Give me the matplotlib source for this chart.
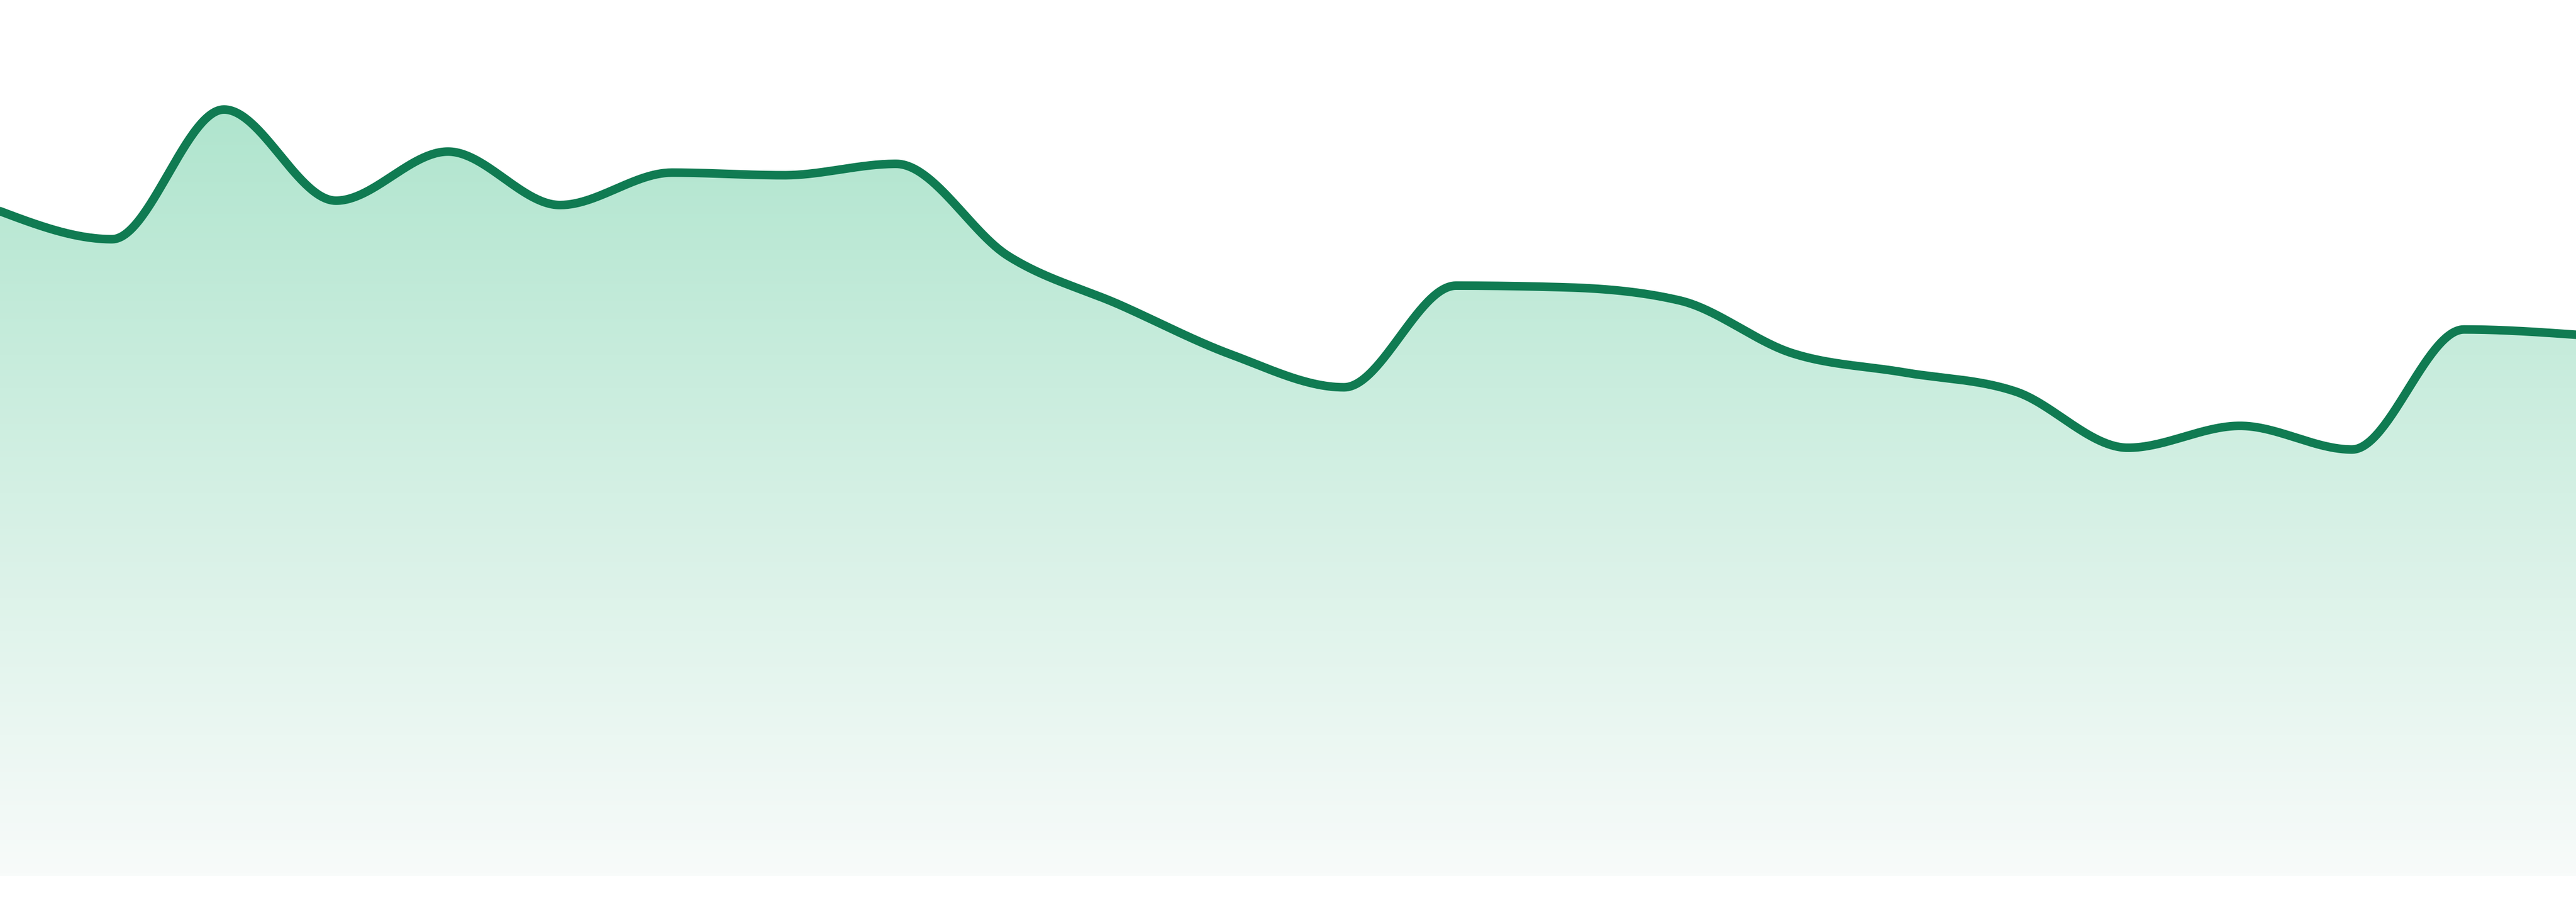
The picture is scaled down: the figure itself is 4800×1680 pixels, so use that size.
#!/usr/bin/env python3
# area chart with a smooth (monotone) line and a vertical gradient fill

import numpy as np
import matplotlib
matplotlib.use('Agg')
import matplotlib.pyplot as plt
from matplotlib.colors import LinearSegmentedColormap

# data (0..100 scale, index = period)
periods = np.arange(24)
values = [75.9, 72.7, 87.5, 77.1, 82.7, 76.6, 80.3, 80.0, 81.3, 70.8, 65.2, 59.5,
          55.8, 67.4, 67.2, 65.7, 59.7, 57.5, 55.3, 48.9, 51.4, 48.7, 62.4, 61.8]

line_color = '#107b52'
fill_top = '#b0e5ce'
fill_bottom = '#f8fbfa'


def monotone_x(x, y, n=60):
    """Monotone cubic curve (same rule as d3.curveMonotoneX)."""
    x = np.asarray(x, float)
    y = np.asarray(y, float)
    h = np.diff(x)
    s = np.diff(y) / h
    t = np.zeros(len(x))
    for i in range(1, len(x) - 1):
        h0, h1 = h[i - 1], h[i]
        s0, s1 = s[i - 1], s[i]
        p = (s0 * h1 + s1 * h0) / (h0 + h1)
        t[i] = (np.sign(s0) + np.sign(s1)) * min(abs(s0), abs(s1), 0.5 * abs(p))
    t[0] = (3 * s[0] - t[1]) / 2
    t[-1] = (3 * s[-1] - t[-2]) / 2

    xs, ys = [], []
    u = np.linspace(0, 1, n)
    for i in range(len(x) - 1):
        dx = h[i] / 3
        p0 = (x[i], y[i])
        p1 = (x[i] + dx, y[i] + dx * t[i])
        p2 = (x[i + 1] - dx, y[i + 1] - dx * t[i + 1])
        p3 = (x[i + 1], y[i + 1])
        a = (1 - u) ** 3
        b = 3 * (1 - u) ** 2 * u
        c = 3 * (1 - u) * u ** 2
        d = u ** 3
        xs.append(a * p0[0] + b * p1[0] + c * p2[0] + d * p3[0])
        ys.append(a * p0[1] + b * p1[1] + c * p2[1] + d * p3[1])
    return np.concatenate(xs), np.concatenate(ys)


W, H = 4800, 1680
fig = plt.figure(figsize=(W / 100, H / 100), dpi=100)
ax = fig.add_axes([0, 48 / H, 1, 1632 / H])
ax.set_xlim(periods[0], periods[-1])
ax.set_ylim(0, 100)
ax.axis('off')

cx, cy = monotone_x(periods, values)

# gradient fill clipped to the area under the curve
cmap = LinearSegmentedColormap.from_list('g', [fill_bottom, fill_top])
top = max(values)
grad = np.linspace(0, 1, 256).reshape(-1, 1)
im = ax.imshow(grad, cmap=cmap, aspect='auto', origin='lower',
               extent=[periods[0], periods[-1], 0, top], zorder=1)
poly = ax.fill_between(cx, cy, 0, color='none', lw=0)
clip = plt.Polygon(np.column_stack([np.r_[cx, cx[-1], cx[0]], np.r_[cy, 0, 0]]),
                   closed=True, transform=ax.transData, facecolor='none', edgecolor='none')
ax.add_patch(clip)
im.set_clip_path(clip)

ax.plot(cx, cy, color=line_color, lw=11.5, solid_joinstyle='round',
        solid_capstyle='round', zorder=3)

fig.savefig('out.png', dpi=100, facecolor='white')
